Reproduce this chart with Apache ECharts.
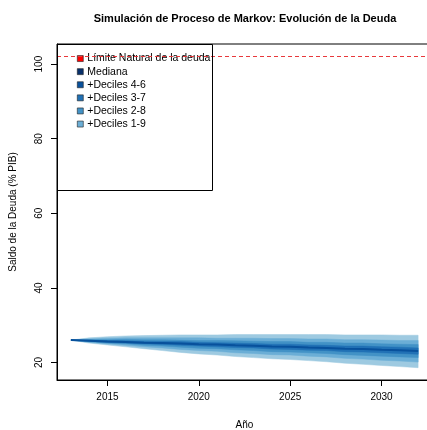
<!DOCTYPE html>
<html><head><meta charset="utf-8">
<script src="https://cdn.jsdelivr.net/npm/echarts@6/dist/echarts.min.js"></script>
<style>html,body{margin:0;padding:0;background:#fff}#c{width:427px;height:430px}</style>
</head><body><div id="c"></div>
<script>
const years  = [2013,2014,2015,2016,2017,2018,2019,2020,2021,2022,2023,2024,2025,2026,2027,2028,2029,2030,2031,2032];
const median = [26.0,25.8,25.6,25.5,25.3,25.2,25.1,24.9,24.8,24.6,24.5,24.3,24.2,24.0,23.9,23.7,23.6,23.4,23.3,23.1];
const dec1   = [26.0,25.2,24.7,24.2,23.7,23.2,22.7,22.3,22.0,21.6,21.3,21.0,20.8,20.5,20.2,19.8,19.5,19.2,18.9,18.6];
const dec2   = [26.0,25.4,25.0,24.6,24.2,23.9,23.5,23.2,23.0,22.6,22.4,22.1,22.0,21.7,21.5,21.1,20.9,20.6,20.4,20.1];
const dec3   = [26.0,25.6,25.2,25.0,24.6,24.4,24.1,23.8,23.7,23.4,23.2,22.9,22.8,22.6,22.4,22.1,21.9,21.7,21.5,21.3];
const dec4   = [26.0,25.7,25.4,25.2,25.0,24.8,24.6,24.4,24.2,24.0,23.9,23.6,23.5,23.3,23.2,22.9,22.8,22.6,22.4,22.2];
const dec6   = [26.0,26.0,25.9,25.8,25.7,25.6,25.6,25.4,25.3,25.2,25.1,24.9,24.9,24.7,24.6,24.4,24.4,24.2,24.1,23.9];
const dec7   = [26.0,26.1,26.1,26.2,26.1,26.1,26.0,25.9,25.9,25.8,25.7,25.6,25.6,25.4,25.4,25.2,25.2,25.0,24.9,24.8];
const dec8   = [26.0,26.3,26.5,26.6,26.6,26.6,26.6,26.6,26.5,26.5,26.5,26.4,26.4,26.3,26.3,26.1,26.1,26.0,25.9,25.9];
const dec9   = [26.0,26.6,26.9,27.1,27.2,27.3,27.4,27.4,27.4,27.5,27.5,27.5,27.5,27.5,27.5,27.4,27.4,27.4,27.3,27.3];
const debtLimit = 102;
const xTickLabels = [2015,2020,2025,2030];
const yTickLabels = [20,40,60,80,100];
const legendNames = ['Límite Natural de la deuda','Mediana','+Deciles 4-6','+Deciles 3-7','+Deciles 2-8','+Deciles 1-9'];

const FONT = '"Liberation Sans", Arial, sans-serif';
const bandCol = {'+Deciles 1-9':'#9ecae1','+Deciles 2-8':'#6baed6','+Deciles 3-7':'#4292c6','+Deciles 4-6':'#2171b5'};
const legCol = ['#ff0000','#08306b','#08519c','#2171b5','#4292c6','#6baed6'];

// one custom series per band: polygon between a lower and an upper decile line
function band(name, lo, hi){
  const data = years.map((y,i)=>[y, lo[i], hi[i]]);
  return {name, type:'custom', data, silent:true, z:2,
    encode:{x:0, y:[1,2]},
    itemStyle:{color:bandCol[name]},
    renderItem:(params, api)=>{
      if (params.dataIndex !== 0) return;
      const upper = data.map(d=>api.coord([d[0], d[2]]));
      const lower = data.map(d=>api.coord([d[0], d[1]])).reverse();
      return {type:'polygon', shape:{points:upper.concat(lower)},
        style:{fill:bandCol[name], stroke:bandCol[name], lineWidth:0.5}};
    }};
}

const series = [
  band('+Deciles 1-9', dec1, dec9),
  band('+Deciles 2-8', dec2, dec8),
  band('+Deciles 3-7', dec3, dec7),
  band('+Deciles 4-6', dec4, dec6),
  {name:'Mediana', type:'line', data:years.map((y,i)=>[y,median[i]]), symbol:'none', silent:true,
    lineStyle:{color:'#08519c', width:2}, itemStyle:{color:'#08306b'}, z:3},
  {name:'Límite Natural de la deuda', type:'line', data:[], itemStyle:{color:'#ff0000'},
    markLine:{silent:true, symbol:'none', label:{show:false},
      lineStyle:{color:'#e8393c', type:[4,3], width:1}, data:[{yAxis:debtLimit}]}, z:4}
];

const chart = echarts.init(document.getElementById('c'), null, {renderer:'canvas'});
chart.setOption({
  animation:false,
  backgroundColor:'#fff',
  textStyle:{fontFamily:FONT},
  title:{text:'Simulación de Proceso de Markov: Evolución de la Deuda', left:240, textAlign:'center', top:8,
    textStyle:{fontFamily:FONT, fontSize:11, fontWeight:'bold', color:'#000'}},
  grid:{left:57, top:44, width:375, height:336, show:true, borderColor:'#000', borderWidth:1,
    backgroundColor:'transparent', containLabel:false, outerBoundsMode:'none'},
  legend:{orient:'vertical', left:77, top:52, padding:0, itemWidth:6, itemHeight:6, itemGap:0, selectedMode:false,
    textStyle:{fontFamily:FONT, fontSize:10.5, color:'#000', lineHeight:13.1, padding:[0,0,0,-1]},
    data: legendNames.map((n,i)=>({name:n, icon:'rect', itemStyle:{color:legCol[i], borderColor:'#222', borderWidth:0.6}}))},
  xAxis:{type:'value', min:2012.24, max:2032.76,
    name:'Año', nameLocation:'middle', nameGap:40, nameTextStyle:{fontFamily:FONT, fontSize:10, color:'#000'},
    axisLine:{show:true, onZero:false, lineStyle:{color:'#000', width:1}},
    axisTick:{show:true, customValues:xTickLabels, length:6, lineStyle:{color:'#000'}},
    axisLabel:{customValues:xTickLabels, formatter:v=>String(v), fontFamily:FONT, fontSize:10, color:'#000', margin:12},
    splitLine:{show:false}},
  yAxis:{type:'value', min:15.3, max:105.4,
    name:'Saldo de la Deuda (% PIB)', nameLocation:'middle', nameGap:39, nameTextStyle:{fontFamily:FONT, fontSize:10, color:'#000'},
    axisLine:{show:true, onZero:false, lineStyle:{color:'#000', width:1}},
    axisTick:{show:true, customValues:yTickLabels, length:6, lineStyle:{color:'#000'}},
    axisLabel:{customValues:yTickLabels, formatter:v=>String(v), rotate:90, fontFamily:FONT, fontSize:10, color:'#000', margin:13},
    splitLine:{show:false}},
  graphic:[{type:'rect', shape:{x:57.5, y:44.5, width:155, height:146}, style:{fill:'none', stroke:'#000', lineWidth:1}, z:100, silent:true}],
  series
});
</script></body></html>
